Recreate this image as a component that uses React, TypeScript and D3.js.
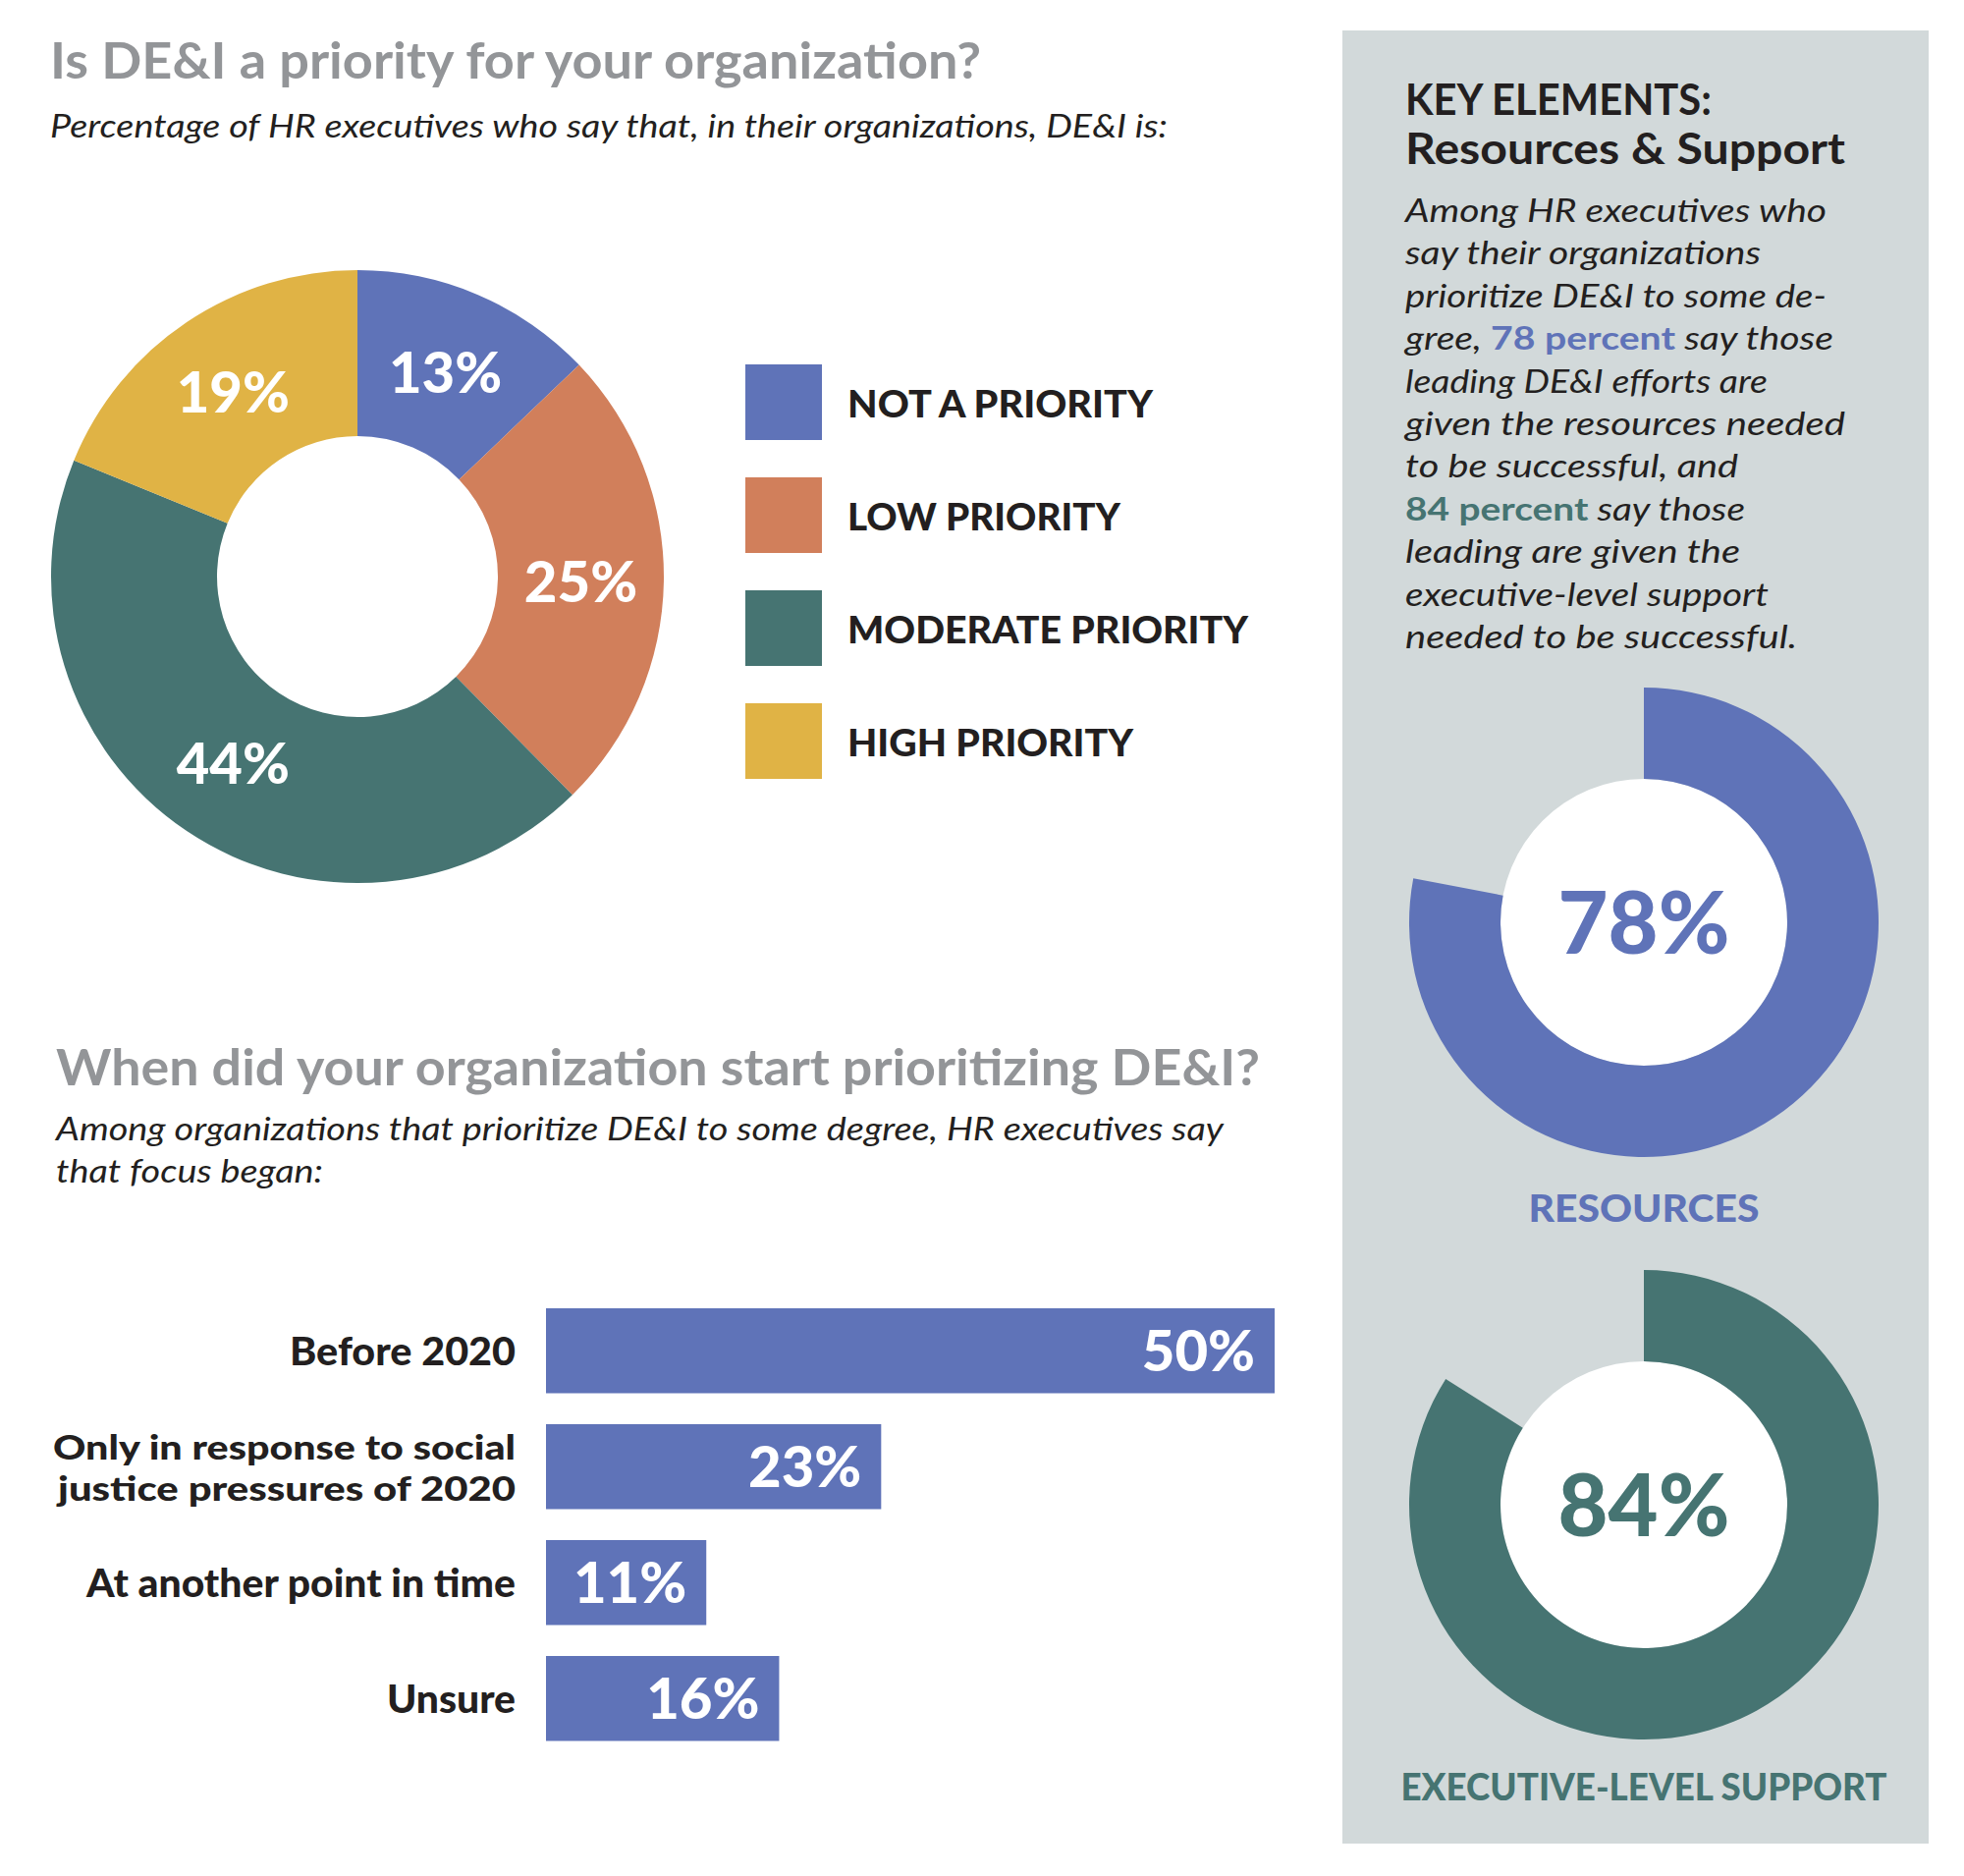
import React from "react";
import * as d3 from "d3";

const priorityCategories = ["NOT A PRIORITY", "LOW PRIORITY", "MODERATE PRIORITY", "HIGH PRIORITY"];
const priorityValues = [13, 25, 44, 19];
const priorityColors = ["#5f73b8", "#d17f5b", "#467472", "#e0b345"];
const legendWidths = [311, 278, 408, 291];

const timingCategories = [
  ["Before 2020"],
  ["Only in response to social", "justice pressures of 2020"],
  ["At another point in time"],
  ["Unsure"],
];
const timingLabelWidths = [[230], [471, 466], [437], [131]];
const timingValues = [50, 23, 11, 16];

const keyLabels = ["RESOURCES", "EXECUTIVE-LEVEL SUPPORT"];
const keyLabelWidths = [235, 495];
const keyValues = [78, 84];
const keyColors = ["#5f73b8", "#467472"];

const bodyLines: { t: string; c?: string }[][] = [
  [{ t: "Among HR executives who" }],
  [{ t: "say their organizations" }],
  [{ t: "prioritize DE&I to some de-" }],
  [{ t: "gree, " }, { t: "78 percent", c: "#5f73b8" }, { t: " say those" }],
  [{ t: "leading DE&I efforts are" }],
  [{ t: "given the resources needed" }],
  [{ t: "to be successful, and" }],
  [{ t: "84 percent", c: "#467472" }, { t: " say those" }],
  [{ t: "leading are given the" }],
  [{ t: "executive-level support" }],
  [{ t: "needed to be successful." }],
];
const bodyWidths = [429, 362, 429, 436, 369, 448, 339, 346, 341, 370, 399];

const BOLD = "Lato, 'Open Sans', sans-serif";
const ITAL = "Lato, 'Open Sans', sans-serif";

export default function App() {
  const pie = d3.pie<number>().sort(null).value((d) => d);
  const arcs = pie(priorityValues);
  const arc = d3.arc<d3.PieArcDatum<number>>().innerRadius(143).outerRadius(312);
  const cx = 364, cy = 587;

  const x = d3.scaleLinear().domain([0, 50]).range([556, 1298]);
  const y = d3
    .scaleBand<number>()
    .domain(timingValues.map((_, i) => i))
    .range([1332, 1772.5])
    .paddingInner(0.267)
    .paddingOuter(0);

  const ringArc = d3.arc<any>().innerRadius(146).outerRadius(239).startAngle(0);
  const ringCenters = [
    { x: 1674, y: 939, labelY: 1244 },
    { x: 1674, y: 1532, labelY: 1833 },
  ];

  return (
    <svg
      width={2000}
      height={1910}
      style={{ position: "absolute", left: 0, top: 0, display: "block", background: "#fff" }}
    >
      {/* Section 1 titles */}
      <text x={51} y={80} fontFamily={BOLD} fontWeight={700} fontSize={51} fill="#939598"
        textLength={948} lengthAdjust="spacingAndGlyphs">
        Is DE&amp;I a priority for your organization?
      </text>
      <text x={51} y={140} fontFamily={ITAL} fontStyle="italic" fontSize={32} fill="#231f20"
        textLength={1138} lengthAdjust="spacingAndGlyphs">
        Percentage of HR executives who say that, in their organizations, DE&amp;I is:
      </text>

      {/* Donut */}
      <g transform={`translate(${cx},${cy})`}>
        {arcs.map((a, i) => (
          <path key={i} d={arc(a) || ""} fill={priorityColors[i]} />
        ))}
        {arcs.map((a, i) => {
          const [lx, ly] = arc.centroid(a);
          return (
            <text
              key={"l" + i}
              x={lx}
              y={ly}
              dy="0.38em"
              textAnchor="middle"
              fontFamily={BOLD}
              fontWeight={900}
              fontSize={58}
              fill="#fff"
            >
              {a.data}%
            </text>
          );
        })}
      </g>

      {/* Legend */}
      {priorityCategories.map((c, i) => (
        <g key={c} transform={`translate(759,${371 + i * 115})`}>
          <rect width={78} height={77} fill={priorityColors[i]} />
          <text x={104} y={38.5} dy="0.42em" fontFamily={BOLD} fontWeight={900} fontSize={37} fill="#231f20"
            textLength={legendWidths[i]} lengthAdjust="spacingAndGlyphs">
            {c}
          </text>
        </g>
      ))}

      {/* Section 2 titles */}
      <text x={57} y={1105} fontFamily={BOLD} fontWeight={700} fontSize={51} fill="#939598"
        textLength={1226} lengthAdjust="spacingAndGlyphs">
        When did your organization start prioritizing DE&amp;I?
      </text>
      <text x={57} y={1161} fontFamily={ITAL} fontStyle="italic" fontSize={32} fill="#231f20"
        textLength={1189} lengthAdjust="spacingAndGlyphs">
        Among organizations that prioritize DE&amp;I to some degree, HR executives say
      </text>
      <text x={57} y={1204} fontFamily={ITAL} fontStyle="italic" fontSize={32} fill="#231f20"
        textLength={272} lengthAdjust="spacingAndGlyphs">
        that focus began:
      </text>

      {/* Bars */}
      {timingValues.map((v, i) => {
        const by = y(i) as number;
        const bh = y.bandwidth();
        const lines = timingCategories[i];
        const lh = 42;
        const fs = lines.length > 1 ? 35 : 39;
        const startY = by + bh / 2 - ((lines.length - 1) * lh) / 2;
        return (
          <g key={i}>
            <rect x={x(0)} y={by} width={x(v) - x(0)} height={bh} fill="#5f73b8" />
            <text
              x={x(v) - 20}
              y={by + bh / 2}
              dy="0.36em"
              textAnchor="end"
              fontFamily={BOLD}
              fontWeight={900}
              fontSize={58}
              fill="#fff"
            >
              {v}%
            </text>
            {lines.map((ln, j) => (
              <text
                key={j}
                x={525 - timingLabelWidths[i][j]}
                y={startY + j * lh}
                dy="0.38em"
                fontFamily={BOLD}
                fontWeight={900}
                fontSize={fs}
                fill="#231f20"
                textLength={timingLabelWidths[i][j]}
                lengthAdjust="spacingAndGlyphs"
              >
                {ln}
              </text>
            ))}
          </g>
        );
      })}

      {/* Right panel */}
      <rect x={1367} y={31} width={597} height={1846} fill="#d2d9da" />
      <text x={1431} y={117} fontFamily={BOLD} fontWeight={700} fontSize={43} fill="#231f20"
        textLength={312} lengthAdjust="spacingAndGlyphs">
        KEY ELEMENTS:
      </text>
      <text x={1431} y={167} fontFamily={BOLD} fontWeight={700} fontSize={43} fill="#231f20"
        textLength={448} lengthAdjust="spacingAndGlyphs">
        Resources &amp; Support
      </text>
      {bodyLines.map((segs, i) => (
        <text
          key={i}
          x={1431}
          y={226 + i * 43.4}
          fontFamily={ITAL}
          fontSize={32}
          fill="#231f20"
          textLength={bodyWidths[i]}
          lengthAdjust="spacingAndGlyphs"
        >
          {segs.map((s, j) => (
            <tspan
              key={j}
              fontStyle={s.c ? "normal" : "italic"}
              fontWeight={s.c ? 700 : 400}
              fill={s.c || "#231f20"}
            >
              {s.t}
            </tspan>
          ))}
        </text>
      ))}

      {keyValues.map((v, i) => {
        const c = ringCenters[i];
        return (
          <g key={i}>
            <g transform={`translate(${c.x},${c.y})`}>
              <circle r={146} fill="#fff" />
              <path d={ringArc({ endAngle: (2 * Math.PI * v) / 100 }) || ""} fill={keyColors[i]} />
              <text
                x={0}
                y={0}
                dy="0.36em"
                textAnchor="middle"
                fontFamily={BOLD}
                fontWeight={900}
                fontSize={88}
                fill={keyColors[i]}
              >
                {v}%
              </text>
            </g>
            <text
              x={c.x - keyLabelWidths[i] / 2}
              y={c.labelY}
              fontFamily={BOLD}
              fontWeight={900}
              fontSize={37}
              fill={keyColors[i]}
              textLength={keyLabelWidths[i]}
              lengthAdjust="spacingAndGlyphs"
            >
              {keyLabels[i]}
            </text>
          </g>
        );
      })}
    </svg>
  );
}
